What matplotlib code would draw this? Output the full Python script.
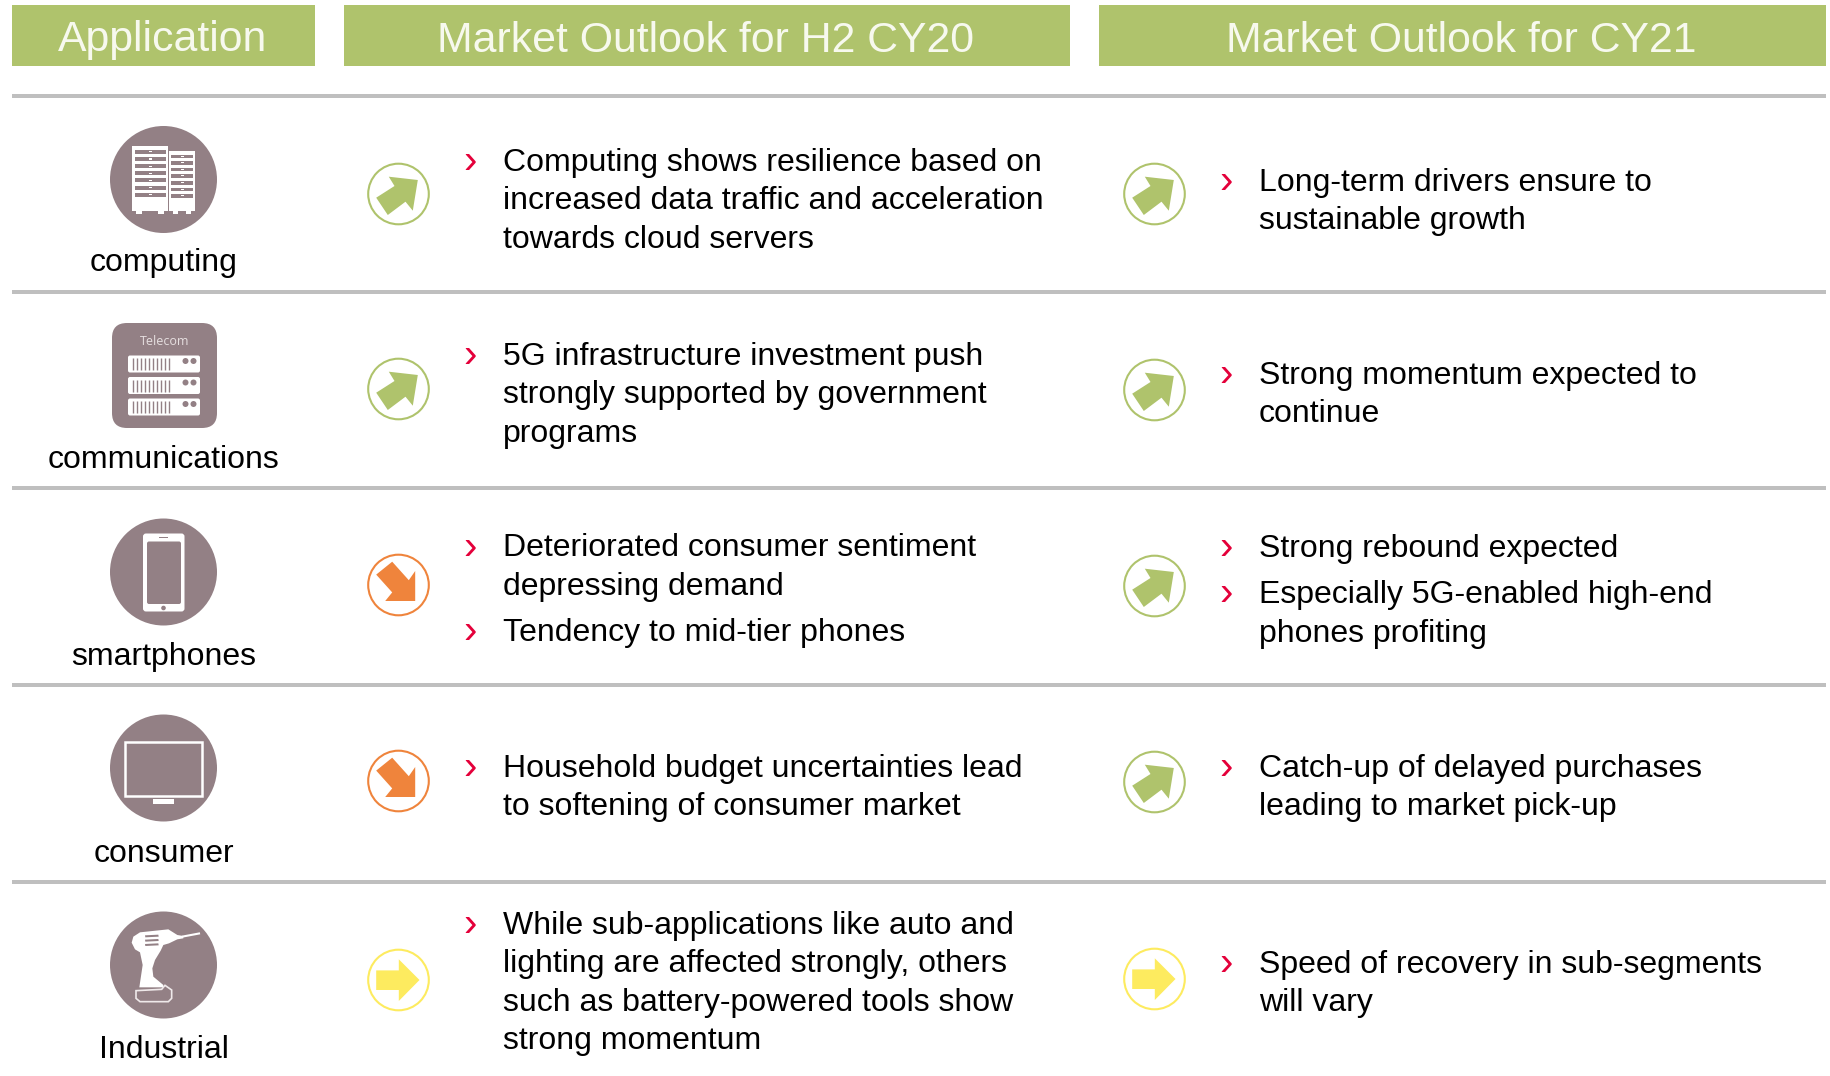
import matplotlib
matplotlib.use("Agg")
import matplotlib.pyplot as plt
from matplotlib.patches import Circle, Rectangle, FancyBboxPatch, Polygon

plt.rcParams['font.family'] = ['Liberation Sans', 'DejaVu Sans']

GREEN = '#AFC36C'
ORANGE = '#EF843C'
YELLOW = '#FDEB5F'
MAUVE = '#938085'
RULE = '#BFBFBF'
RED = '#E4003A'

headers = ['Application', 'Market Outlook for H2 CY20', 'Market Outlook for CY21']
applications = ['computing', 'communications', 'smartphones', 'consumer', 'Industrial']

outlook_h2 = [
    [['Computing shows resilience based on', 'increased data traffic and acceleration', 'towards cloud servers']],
    [['5G infrastructure investment push', 'strongly supported by government', 'programs']],
    [['Deteriorated consumer sentiment', 'depressing demand'], ['Tendency to mid-tier phones']],
    [['Household budget uncertainties lead', 'to softening of consumer market']],
    [['While sub-applications like auto and', 'lighting are affected strongly, others', 'such as battery-powered tools show', 'strong momentum']],
]
outlook_cy21 = [
    [['Long-term drivers ensure to', 'sustainable growth']],
    [['Strong momentum expected to', 'continue']],
    [['Strong rebound expected'], ['Especially 5G-enabled high-end', 'phones profiting']],
    [['Catch-up of delayed purchases', 'leading to market pick-up']],
    [['Speed of recovery in sub-segments', 'will vary']],
]
trend_h2 = ['up', 'up', 'down', 'down', 'flat']
trend_cy21 = ['up', 'up', 'up', 'up', 'flat']

# layout, in reference pixels
rule_y = [96, 292, 488, 685, 882]
icon_y = [179.5, 375.5, 572, 768, 965]
label_y = [271.5, 467.5, 664.5, 861.5, 1058]
arrow_y_h2 = [194, 389, 585, 781, 980]
arrow_y_cy21 = [194, 390, 586, 782, 979]
first_line_h2 = [[171], [365], [556.5, 641.5], [776.5], [934]]
first_line_cy21 = [[190.5], [384], [556.5, 603.5], [776.5], [972.5]]
LINE = 38.4
BODY = 23

trend_color = {'up': GREEN, 'down': ORANGE, 'flat': YELLOW}
trend_shape = {
    'up': [(19.3, -14), (14.3, 16.7), (7, 7.7), (-10.7, 21), (-22.3, 3.7), (-4, -8), (-9.7, -17.3)],
    'down': [(-6.3, -23.3), (10.3, -4.8), (16.7, -14), (16.7, 16), (-13.3, 16), (-6.3, 7.4), (-22.3, -10.4)],
    'flat': [(-22.3, -9.6), (0.3, -9.6), (0.3, -20.7), (21, 0), (0.3, 21), (0.3, 10), (-22.3, 10)],
}

fig = plt.figure(figsize=(18.31, 10.76), dpi=100)
ax = fig.add_axes([0, 0, 1, 1])
ax.set_xlim(0, 1831)
ax.set_ylim(1076, 0)
ax.axis('off')


def box(x0, y0, x1, y1, color='white', **kw):
    ax.add_patch(Rectangle((x0, y0), x1 - x0, y1 - y0, fc=color, ec='none', **kw))


def rounded(x0, y0, x1, y1, r, color='white', **kw):
    ax.add_patch(FancyBboxPatch((x0 + r, y0 + r), x1 - x0 - 2 * r, y1 - y0 - 2 * r,
                                boxstyle='round,pad=%f,rounding_size=%f' % (r, r),
                                fc=color, ec='none', **kw))


def icon_computing(cy):
    ax.add_patch(Circle((163.5, cy), 53.5, fc=MAUVE, ec='none'))
    dy = cy - 179.5
    box(132, 146 + dy, 168, 211 + dy)
    box(169.5, 151 + dy, 195, 211 + dy)
    for i in range(7):
        y = 150 + i * 7.1 + dy
        box(135, y, 166, y + 4, MAUVE)
        box(149, y + 1.3, 152, y + 2.5)
        y = 154.5 + i * 6.65 + dy
        box(171.5, y, 193, y + 3.4, MAUVE)
        box(181, y + 1, 184, y + 2)
    # feet
    box(136, 210 + dy, 142, 213.5 + dy)
    box(158, 210 + dy, 164, 213.5 + dy)
    box(173, 210 + dy, 178, 213.5 + dy)
    box(186, 210 + dy, 191, 213.5 + dy)


def icon_telecom(cy):
    rounded(112, cy - 52.5, 217, cy + 52.5, 15, MAUVE)
    ax.text(164.5, cy - 34, 'Telecom', ha='center', va='center', fontsize=9,
            color='#E6DFE0', family=['Open Sans', 'DejaVu Sans'])
    for top in (cy - 20, cy + 1.5, cy + 23):
        rounded(128, top, 200, top + 17, 2)
        for i in range(10):
            x = 133.5 + i * 3.95
            ax.plot([x, x], [top + 2.5, top + 14.5], color=MAUVE, lw=1, solid_capstyle='butt')
        ax.add_patch(Circle((185.5, top + 5.5), 3, fc=MAUVE, ec='none'))
        ax.add_patch(Circle((193.5, top + 5.5), 3, fc=MAUVE, ec='none'))


def icon_phone(cy):
    ax.add_patch(Circle((163.5, cy), 53.5, fc=MAUVE, ec='none'))
    rounded(143, cy - 38.5, 184.5, cy + 39.5, 3)
    rounded(147, cy - 30.5, 181, cy + 32, 2, MAUVE)
    ax.add_patch(Circle((163.5, cy + 36), 2.3, fc=MAUVE, ec='none'))
    box(159.5, cy - 35, 168, cy - 34, MAUVE)


def icon_tv(cy):
    ax.add_patch(Circle((163.5, cy), 53.5, fc=MAUVE, ec='none'))
    ax.add_patch(Rectangle((125, cy - 26.5), 77, 54, fc='none', ec='white', lw=1.8))
    box(153, cy + 31, 174.5, cy + 36)


def icon_drill(cy):
    ax.add_patch(Circle((163.5, cy), 53.5, fc=MAUVE, ec='none'))
    dy = cy - 965
    to_px = lambda pts: [(100 + x / 3, 900 + y / 3 + dy) for x, y in pts]
    body = [(95, 128), (100, 110), (120, 97), (205, 88), (232, 105), (250, 108), (250, 115), (232, 118),
            (207, 130), (190, 135), (182, 152), (165, 180), (157, 205), (160, 230), (190, 255), (190, 262),
            (118, 262), (122, 235), (128, 195), (120, 157), (105, 148)]
    ax.add_patch(Polygon(to_px(body), fc='white', ec='none'))
    for top in (104, 117, 130):
        ax.add_patch(Polygon(to_px([(135, top + 2), (175, top), (176, top + 6), (136, top + 8)]), fc=MAUVE, ec='none'))
    ax.plot([183, 199], [936.5 + dy, 933.5 + dy], color='white', lw=1.5)
    shell = [(108, 272), (185, 268), (195, 256), (215, 270), (215, 295), (205, 305), (120, 305), (108, 295)]
    ax.add_patch(Polygon(to_px(shell), fc='none', ec='#EFE9EA', lw=1.2))


def draw_arrow(cx, cy, trend):
    col = trend_color[trend]
    ax.add_patch(Circle((cx, cy), 30.3, fc='white', ec=col, lw=1.5))
    ax.add_patch(Polygon([(cx + dx, cy + dy) for dx, dy in trend_shape[trend]], fc=col, ec='none'))


def draw_bullets(x_mark, x_text, first_lines, bullets):
    for y0, lines in zip(first_lines, bullets):
        ax.text(x_mark, y0 + 2, '\u203a', color=RED, fontsize=29,
                ha='center', va='baseline')
        for i, line in enumerate(lines):
            ax.text(x_text, y0 + i * LINE, line, fontsize=BODY, color='black', ha='left', va='baseline')


for (x0, x1), title in zip([(12, 315), (344, 1070), (1099.5, 1826)], headers):
    box(x0, 5, x1, 66, GREEN)
    ax.text((x0 + x1) / 2 - 1, 51.5, title, fontsize=30.8, color='#F7F9EE', ha='center', va='baseline')

for y in rule_y:
    box(12, y - 2, 1826, y + 2, RULE)

icon_funcs = [icon_computing, icon_telecom, icon_phone, icon_tv, icon_drill]
for i, name in enumerate(applications):
    icon_funcs[i](icon_y[i])
    ax.text(163.5, label_y[i], name, fontsize=BODY, color='black', ha='center', va='baseline')
    draw_arrow(398.5, arrow_y_h2[i], trend_h2[i])
    draw_arrow(1154.5, arrow_y_cy21[i], trend_cy21[i])
    draw_bullets(470, 503, first_line_h2[i], outlook_h2[i])
    draw_bullets(1226, 1259, first_line_cy21[i], outlook_cy21[i])

fig.savefig('out.png', dpi=100, facecolor='white')
